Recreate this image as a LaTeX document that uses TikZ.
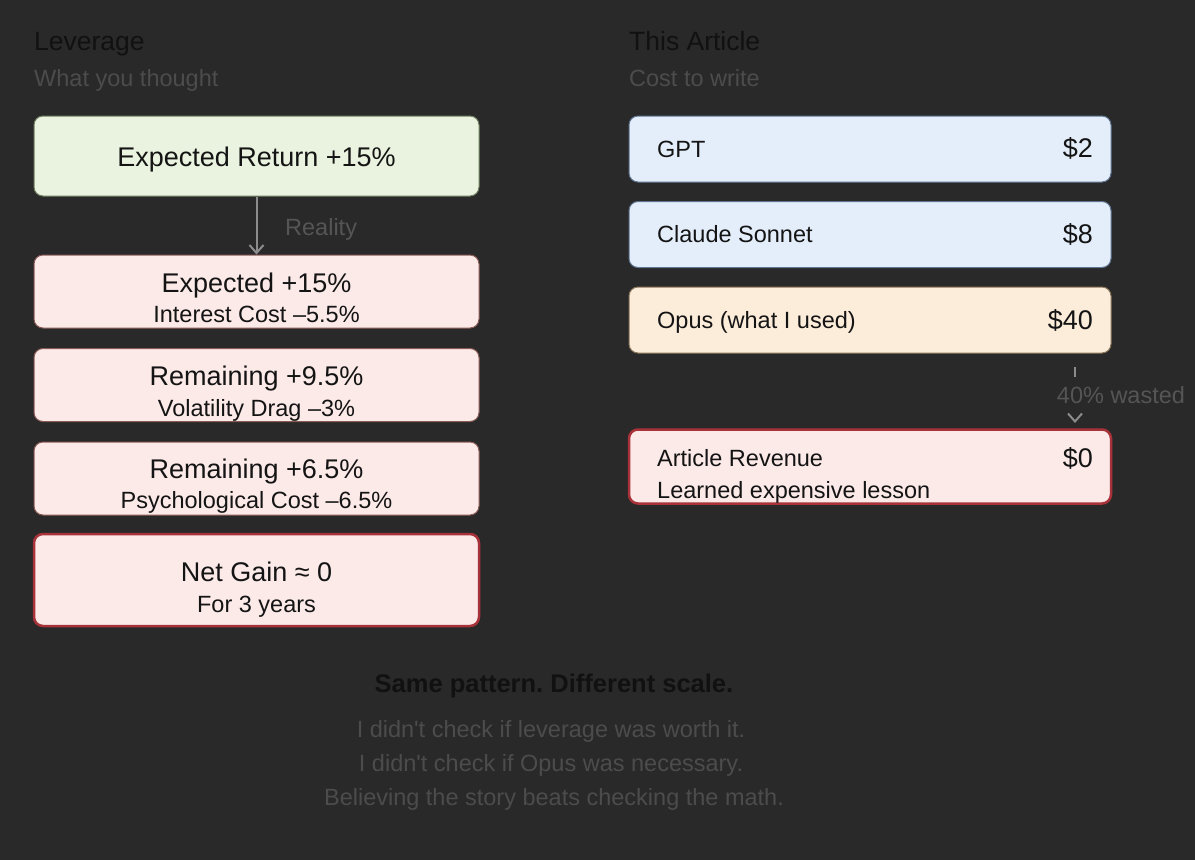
\documentclass[tikz,border=0pt]{standalone}
\usepackage{fontspec}
\setmainfont{Liberation Sans}[Ligatures=TeXOff]
\usetikzlibrary{arrows.meta}
\definecolor{bg}{HTML}{292929}
\definecolor{titlec}{HTML}{111111}
\definecolor{subc}{HTML}{4C4C4C}
\definecolor{ink}{HTML}{141414}
\definecolor{greenf}{HTML}{E9F3DF}
\definecolor{greenb}{HTML}{6E7E60}
\definecolor{pinkf}{HTML}{FBEAE8}
\definecolor{pinkb}{HTML}{8A5A55}
\definecolor{redb}{HTML}{A8323A}
\definecolor{bluef}{HTML}{E4EEFA}
\definecolor{blueb}{HTML}{5E7390}
\definecolor{creamf}{HTML}{FCECDA}
\definecolor{creamb}{HTML}{8A7458}
\definecolor{arrowc}{HTML}{8C8C8C}
\definecolor{labc}{HTML}{555555}
\newcommand{\fbig}{\fontsize{27}{32}\selectfont}
\newcommand{\fsmall}{\fontsize{23.5}{28}\selectfont}
\newcommand{\ftitle}{\fontsize{26.5}{31}\selectfont}
\frenchspacing
\tikzset{
  box/.style={rounded corners=9pt, line width=1pt, minimum width=445pt, inner sep=0pt},
  rbox/.style={rounded corners=9pt, line width=1pt, minimum width=482pt, inner sep=0pt},
  greenbox/.style={box, fill=greenf, draw=greenb, minimum height=80pt},
  pinkbox/.style={box, fill=pinkf, draw=pinkb, minimum height=73pt},
  alertbox/.style={fill=pinkf, draw=redb, line width=2.5pt},
  bluebox/.style={rbox, fill=bluef, draw=blueb, minimum height=66pt},
  creambox/.style={rbox, fill=creamf, draw=creamb, minimum height=66pt},
  txt/.style={inner sep=0pt, anchor=base, text=ink},
  ltxt/.style={inner sep=0pt, anchor=base west, text=ink},
  vtxt/.style={inner sep=0pt, anchor=base east, text=ink},
  head/.style={inner sep=0pt, anchor=base west, text=titlec, font=\ftitle},
  subhead/.style={inner sep=0pt, anchor=base west, text=subc, font=\fsmall},
  conn/.style={draw=arrowc, line width=2pt, -{Straight Barb[length=8pt,width=14pt,line width=2pt]}},
}
\begin{document}
\begin{tikzpicture}[x=1pt,y=-1pt]
\fill[bg] (0,0) rectangle (1195,860);
\useasboundingbox (0,0) rectangle (1195,860);

% left column
\node[head] (lt) at (34,50) {Leverage};
\node[subhead] (ls) at (34,86.5) {What you thought};

\node[greenbox] (b1) at (256.5,156) {};
\node[txt, font=\fbig] (b1t) at (256.5,166) {Expected Return +15\%};

\node[pinkbox] (b2) at (256.5,291.5) {};
\node[txt, font=\fbig] (b2t) at (256.5,292) {Expected +15\%};
\node[txt, font=\fsmall] (b2s) at (256.5,322.5) {Interest Cost –5.5\%};

\node[pinkbox] (b3) at (256.5,385) {};
\node[txt, font=\fbig] (b3t) at (256.5,385.5) {Remaining +9.5\%};
\node[txt, font=\fsmall] (b3s) at (256.5,416) {Volatility Drag –3\%};

\node[pinkbox] (b4) at (256.5,478.5) {};
\node[txt, font=\fbig] (b4t) at (256.5,478) {Remaining +6.5\%};
\node[txt, font=\fsmall] (b4s) at (256.5,508.5) {Psychological Cost –6.5\%};

\node[box, alertbox, minimum height=92pt] (b5) at (256.5,580) {};
\node[txt, font=\fbig] (b5t) at (256.5,581) {Net Gain ≈ 0};
\node[txt, font=\fsmall] (b5s) at (256.5,612) {For 3 years};

\draw[conn] (b1.south) -- (b2.north);
\node[inner sep=0pt, anchor=base west, text=labc, font=\fsmall] (rl) at (285,235) {Reality};

% right column
\node[head] (rt) at (629,50) {This Article};
\node[subhead] (rs) at (629,86.5) {Cost to write};

\node[bluebox] (g1) at (870,149) {};
\node[ltxt, font=\fsmall] (g1t) at (657,157) {GPT};
\node[vtxt, font=\fbig] (g1v) at (1093,157.5) {\$2};

\node[bluebox] (g2) at (870,234.5) {};
\node[ltxt, font=\fsmall] (g2t) at (657,242.5) {Claude Sonnet};
\node[vtxt, font=\fbig] (g2v) at (1093,243) {\$8};

\node[creambox] (g3) at (870,320) {};
\node[ltxt, font=\fsmall] (g3t) at (657,328) {Opus (what I used)};
\node[vtxt, font=\fbig] (g3v) at (1093,329) {\$40};

\node[rbox, alertbox, minimum height=74pt] (g4) at (870,466.5) {};
\node[ltxt, font=\fsmall] (g4t) at (657,466) {Article Revenue};
\node[vtxt, font=\fbig] (g4v) at (1093,467) {\$0};
\node[ltxt, font=\fsmall] (g4s) at (657,498.5) {Learned expensive lesson};

\coordinate (d1) at (1075,367);
\coordinate (d2) at (1075,423);
\draw[conn, dash pattern=on 10pt off 200pt] (d1) -- (d2);
\node[inner sep=0pt, anchor=base, text=labc, font=\fsmall] (wl) at (1121,403) {40\% wasted};

% bottom
\node[inner sep=0pt, anchor=base, text=titlec, font=\fontsize{25.5}{30}\selectfont\bfseries] (bt) at (554,692) {Same pattern. Different scale.};
\node[inner sep=0pt, anchor=base, text=subc, font=\fsmall] (bl1) at (551,737.5) {I didn't check if leverage was worth it.};
\node[inner sep=0pt, anchor=base, text=subc, font=\fsmall] (bl2) at (551,771) {I didn't check if Opus was necessary.};
\node[inner sep=0pt, anchor=base, text=subc, font=\fsmall] (bl3) at (554,805) {Believing the story beats checking the math.};
\end{tikzpicture}
\end{document}
